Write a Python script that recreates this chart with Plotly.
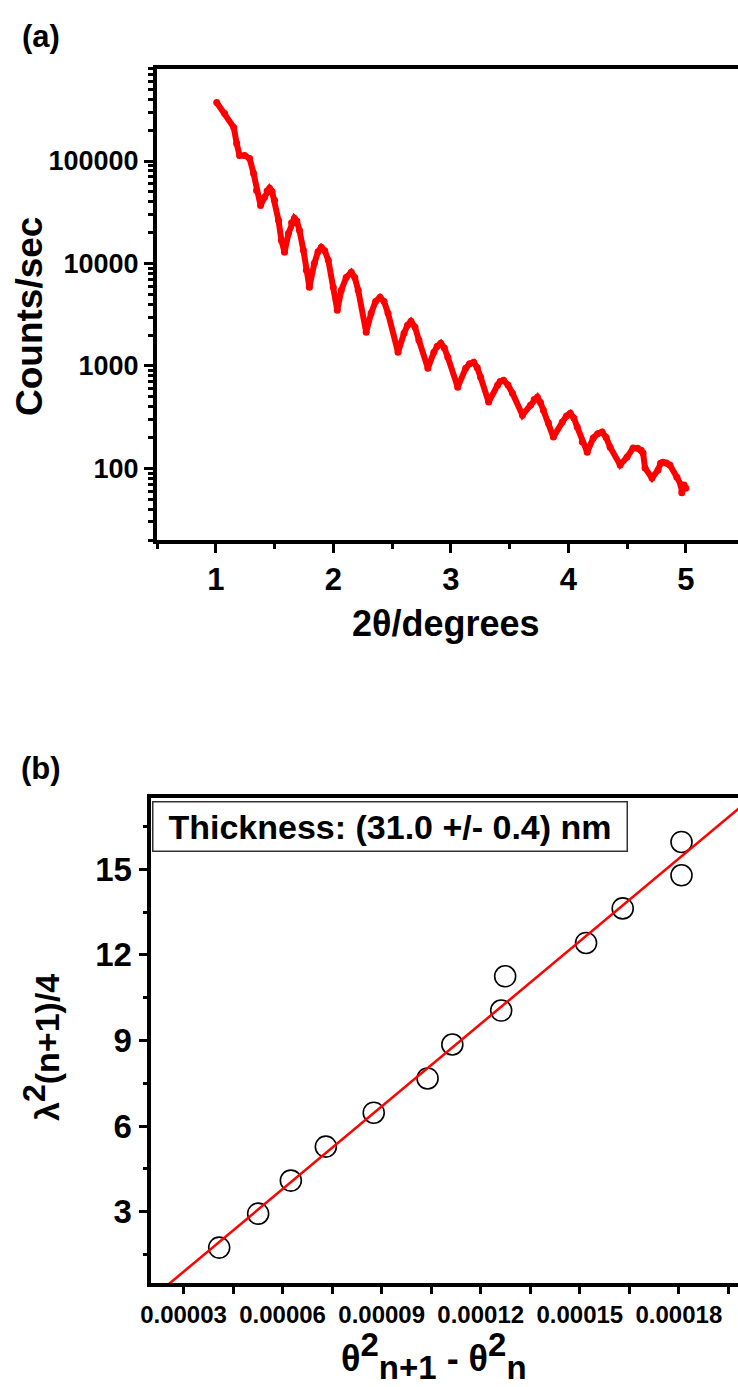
import numpy as np
import plotly.graph_objects as go

# ---- panel (a): XRR curve ----
two_theta = [1.008, 1.076, 1.153, 1.178, 1.203, 1.246, 1.288, 1.322, 1.347, 1.381,
             1.415, 1.437, 1.458, 1.479, 1.500, 1.534, 1.559, 1.585, 1.619, 1.645,
             1.669, 1.690, 1.712, 1.746, 1.771, 1.797, 1.839, 1.870, 1.898, 1.928,
             1.958, 2.000, 2.034, 2.068, 2.110, 2.153, 2.183, 2.212, 2.280, 2.322,
             2.360, 2.398, 2.432, 2.466, 2.551, 2.602, 2.632, 2.661, 2.695, 2.729,
             2.805, 2.856, 2.885, 2.915, 2.945, 2.975, 3.059, 3.127, 3.160, 3.195,
             3.225, 3.254, 3.322, 3.398, 3.420, 3.449, 3.487, 3.525, 3.610, 3.678,
             3.710, 3.737, 3.763, 3.788, 3.831, 3.873, 3.949, 3.985, 4.017, 4.047,
             4.076, 4.119, 4.161, 4.212, 4.250, 4.288, 4.322, 4.356, 4.441, 4.500,
             4.551, 4.590, 4.620, 4.636, 4.653, 4.712, 4.763, 4.785, 4.805, 4.835,
             4.864, 4.924, 4.958, 4.966, 4.985, 5.000]
counts = [373000, 291000, 212800, 148600, 113500, 113500, 106000, 75700, 51700, 36900,
          44200, 51000, 54100, 50500, 41300, 26400, 16800, 12850, 19700, 25000,
          27600, 26000, 21100, 13450, 8590, 5860, 10050, 13000, 14400, 13300,
          10740, 5860, 3500, 5480, 7300, 8200, 7300, 5480, 2130, 3270,
          4250, 4680, 4250, 3270, 1360, 2085, 2500, 2730, 2400, 1780,
          951, 1360, 1560, 1667, 1500, 1217, 621, 951, 1050, 1089,
          960, 776, 444, 649, 705, 726, 650, 542, 331, 414,
          470, 495, 440, 370, 277, 202, 283, 325, 346, 310,
          253, 181, 144, 198, 218, 226, 200, 161, 108, 129,
          158, 157, 150, 141, 101, 80.5, 96.4, 112, 115, 113,
          108, 82, 69, 58, 69, 64]

# ---- panel (b): Kiessig fringe fit ----
dtheta_sq = [4.08e-5, 5.26e-5, 6.25e-5, 7.31e-5, 8.76e-5, 1.039e-4, 1.114e-4,
             1.262e-4, 1.274e-4, 1.519e-4, 1.630e-4, 1.808e-4, 1.808e-4]
lam_term = [1.74, 2.93, 4.09, 5.28, 6.47, 7.67, 8.86, 10.05, 11.25, 12.42,
            13.63, 14.79, 15.96]

a_xlabel = "2θ/degrees"
a_ylabel = "Counts/sec"
b_box_text = "Thickness: (31.0 +/- 0.4) nm"

W, H = 738, 1387
FONT = "Liberation Sans, Arial, sans-serif"


def fx(p):
    return p / W


def fy(p):
    return 1 - p / H


fig = go.Figure()

fig.add_trace(go.Scatter(
    x=two_theta, y=counts, mode="lines+markers",
    line=dict(color="#ff0000", width=6),
    marker=dict(color="#ff0000", size=7),
    xaxis="x", yaxis="y", showlegend=False, hoverinfo="skip"))

fig.add_trace(go.Scatter(
    x=dtheta_sq, y=lam_term, mode="markers",
    marker=dict(symbol="circle-open", size=21, color="black", line=dict(width=1.6, color="black")),
    xaxis="x2", yaxis="y2", showlegend=False))

coef = np.polyfit(dtheta_sq, lam_term, 1)
fit_x = np.array([0.00001, 0.00021])
fig.add_trace(go.Scatter(
    x=fit_x, y=np.polyval(coef, fit_x), mode="lines",
    line=dict(color="#ff0000", width=2.5),
    xaxis="x2", yaxis="y2", showlegend=False))

axis_common = dict(showline=True, linecolor="black", linewidth=4, showgrid=False,
                   zeroline=False, ticks="outside", tickcolor="black", tickwidth=3,
                   automargin=False)

fig.update_layout(
    width=W, height=H, margin=dict(l=0, r=0, t=0, b=0, autoexpand=False),
    paper_bgcolor="white", plot_bgcolor="white", showlegend=False,
    font=dict(family=FONT, color="black"),
    xaxis=dict(**axis_common, domain=[fx(157), 1], range=[0.5, 5.444], anchor="y",
               mirror=True, dtick=1, tick0=0, ticklen=9,
               minor=dict(ticks="outside", ticklen=5, tickwidth=3, tickcolor="black", dtick=0.5, tick0=0.5),
               tickfont=dict(size=31, family=FONT, weight="bold")),
    yaxis=dict(**axis_common, type="log", domain=[fy(540), fy(68.5)],
               range=[np.log10(20), np.log10(800000)], anchor="x", dtick=1,
               tickformat="d", ticklen=9,
               minor=dict(ticks="outside", ticklen=5, tickwidth=2.5, tickcolor="black", dtick="D1"),
               tickfont=dict(size=27, family=FONT, weight="bold")),
    xaxis2=dict(**axis_common, domain=[fx(150.5), 1], range=[0.00002, 0.00019791], anchor="y2",
                mirror=True, dtick=0.00003, tick0=0, ticklen=7, tickformat=".5f",
                minor=dict(ticks="outside", ticklen=7, tickwidth=3, tickcolor="black", dtick=0.000015, tick0=0),
                tickfont=dict(size=24, family=FONT, weight="bold")),
    yaxis2=dict(**axis_common, domain=[fy(1283), fy(798)], range=[0.5, 17.5], anchor="x2",
                dtick=3, tick0=0, ticklen=8,
                minor=dict(ticks="outside", ticklen=4, tickwidth=3, tickcolor="black", dtick=1.5, tick0=0),
                tickfont=dict(size=33, family=FONT, weight="bold")),
)

ann = [
    dict(text="(a)", x=fx(41), y=fy(37), font=dict(size=31)),
    dict(text="(b)", x=fx(41), y=fy(768), font=dict(size=31)),
    dict(text=a_xlabel, x=fx(446), y=fy(623), font=dict(size=36)),
    dict(text=a_ylabel, x=fx(30), y=fy(317), font=dict(size=37), textangle=-90),
    dict(text="θ<sup><span style='font-size:33px'>2</span></sup><sub><span style='font-size:33px'>n+1</span></sub> - "
              "θ<sup><span style='font-size:33px'>2</span></sup><sub><span style='font-size:33px'>n</span></sub>",
         x=fx(434), y=fy(1356), font=dict(size=36)),
    dict(text="λ<sup><span style='font-size:32px'>2</span></sup>(n+1)/4",
         x=fx(41), y=fy(1048), font=dict(size=34), textangle=-90),
]
annotations = []
for a in ann:
    a["font"].update(family=FONT, color="black", weight="bold")
    annotations.append(dict(xref="paper", yref="paper", showarrow=False,
                            xanchor="center", yanchor="middle", **a))

annotations.append(dict(
    xref="paper", yref="paper", x=fx(152), y=fy(801), xanchor="left", yanchor="top",
    text=b_box_text, showarrow=False, align="center",
    font=dict(size=34, family=FONT, color="black", weight="bold"),
    bordercolor="#333333", borderwidth=1.5, borderpad=0, width=473, height=48,
    bgcolor="white"))

fig.update_layout(annotations=annotations)
fig.write_html("out.html")
